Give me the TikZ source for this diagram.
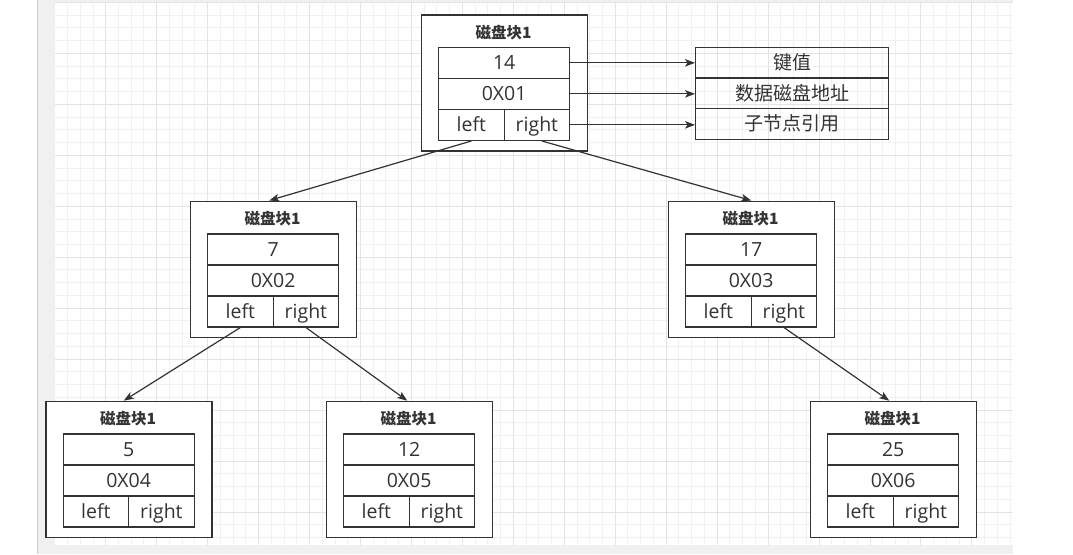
\documentclass[tikz,border=0pt]{standalone}
\usepackage{fontspec}
\newfontfamily\cjk{Noto Sans CJK SC}
\newfontfamily\lat{Open Sans}
\usetikzlibrary{arrows.meta}
\definecolor{ln}{HTML}{333333}
\definecolor{tx}{HTML}{333333}
\definecolor{bgray}{HTML}{F0F0F0}
\definecolor{gminor}{HTML}{F1F1F1}
\definecolor{gmajor}{HTML}{E4E4E4}
\tikzset{
  outerbox/.style={draw=ln, line width=1.5pt, fill=white, minimum width=166pt, minimum height=136pt, inner sep=0pt, anchor=north west},
  titletext/.style={font=\cjk\bfseries\fontsize{15.5}{16}\selectfont, text=tx, text height=11pt, text depth=0pt, inner sep=0pt},
  cellbox/.style={draw=ln, line width=1.3pt, minimum height=31pt, inner sep=0pt, anchor=north west, text=tx, text height=13.9pt, text depth=0pt, font=\lat\fontsize{19.5}{20}\selectfont},
  rowbox/.style={cellbox, minimum width=131pt},
  halfbox/.style={cellbox, minimum width=65.5pt},
  legendbox/.style={cellbox, minimum width=193pt, minimum height=30.7pt, font=\cjk\fontsize{19}{20}\selectfont, text height=13.5pt},
  arr/.style={draw=ln, line width=1.2pt, -{Stealth[length=10pt,width=7.5pt,inset=2.5pt]}}
}
\newcommand\diskblock[5]{%
  \node[outerbox] (#1-o) at (#2,#3) {};
  \node[titletext] (#1-t) at ({#2+83},{#3+18.5}) {磁盘块1};
  \node[rowbox] (#1-k) at ({#2+17.5},{#3+32.7}) {#4};
  \node[rowbox] (#1-a) at ({#2+17.5},{#3+63.7}) {#5};
  \node[halfbox] (#1-l) at ({#2+17.5},{#3+94.7}) {left};
  \node[halfbox] (#1-r) at ({#2+83},{#3+94.7}) {right};
}
\begin{document}
\begin{tikzpicture}[x=1pt,y=-1pt]
\useasboundingbox (0,0) rectangle (1073,554);
% background
\fill[bgray] (37,0) rectangle (1013,554);
\draw[gray!40, line width=0.8pt] (37.4,0) -- (37.4,554);
\fill[white] (54.8,2.5) rectangle (1013,545);
\begin{scope}
\clip (54.8,2.5) rectangle (1013,545);
\foreach \k in {0,...,75}{\draw[gminor, line width=1pt] ({54.8+\k*12.7375},2.5) -- ({54.8+\k*12.7375},545);}
\foreach \k in {0,...,42}{\draw[gminor, line width=1pt] (54.8,{2.5+\k*12.7375}) -- (1013,{2.5+\k*12.7375});}
\foreach \k in {0,4,...,72}{\draw[gmajor, line width=1pt] ({54.8+\k*12.7375},2.5) -- ({54.8+\k*12.7375},545);}
\foreach \k in {0,4,...,40}{\draw[gmajor, line width=1pt] (54.8,{2.5+\k*12.7375}) -- (1013,{2.5+\k*12.7375});}
\end{scope}
% blocks
\diskblock{top}{420.5}{14}{14}{0X01}
\diskblock{ml}{189.5}{200.5}{7}{0X02}
\diskblock{mr}{667.5}{200.5}{17}{0X03}
\diskblock{bl}{45}{400.7}{5}{0X04}
\diskblock{bm}{325.5}{400.7}{12}{0X05}
\diskblock{br}{809.5}{400.7}{25}{0X06}
% legend
\node[legendbox] (lg-k) at (695,46.7) {键值};
\node[legendbox] (lg-a) at (695,77.4) {数据磁盘地址};
\node[legendbox] (lg-c) at (695,108.1) {子节点引用};
% legend arrows
\draw[arr] (top-k.east) -- (top-k.east -| lg-k.west);
\draw[arr] (top-a.east) -- (top-a.east -| lg-a.west);
\draw[arr] (top-r.east) -- (top-r.east -| lg-c.west);
% tree arrows
\draw[arr] (top-l.south) -- ([xshift=-4pt]ml-o.north);
\draw[arr] ([xshift=5pt]top-r.south) -- (mr-o.north);
\draw[arr] (ml-l.south) -- ([xshift=-5pt]bl-o.north);
\draw[arr] (ml-r.south) -- ([xshift=-2pt]bm-o.north);
\draw[arr] (mr-r.south) -- ([xshift=-4pt]br-o.north);
\end{tikzpicture}
\end{document}
